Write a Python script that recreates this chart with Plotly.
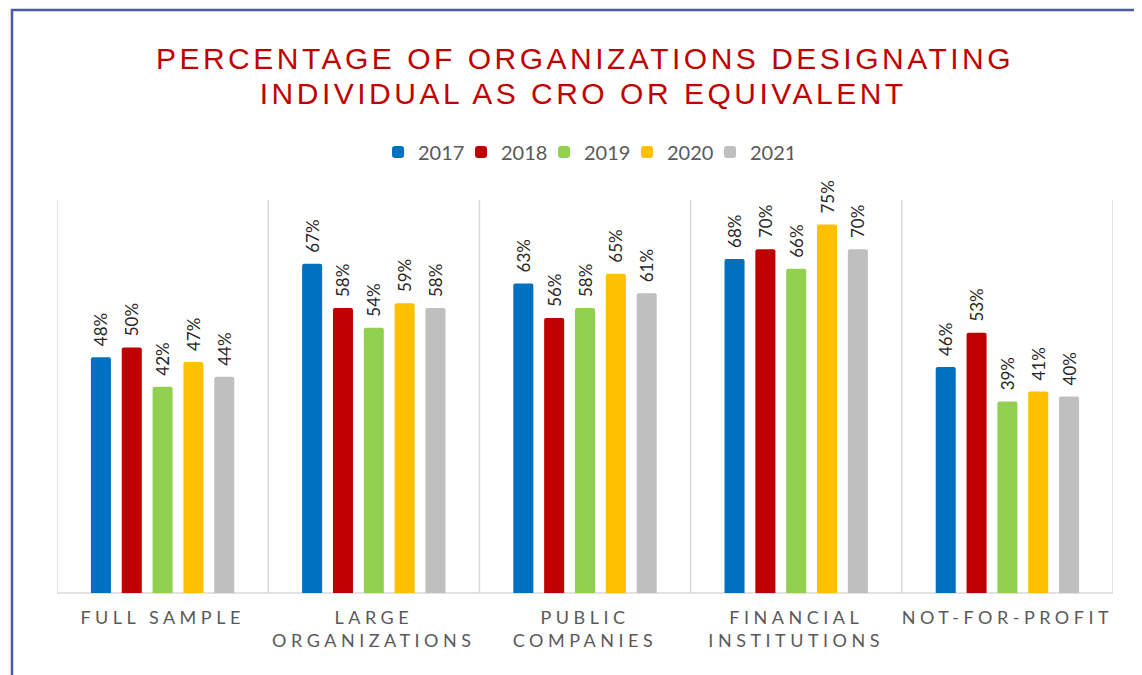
import plotly.graph_objects as go

# data
categories = ["FULL SAMPLE", "LARGE<br>ORGANIZATIONS", "PUBLIC<br>COMPANIES",
              "FINANCIAL<br>INSTITUTIONS", "NOT-FOR-PROFIT"]
years = ["2017", "2018", "2019", "2020", "2021"]
v2017 = [48, 67, 63, 68, 46]
v2018 = [50, 58, 56, 70, 53]
v2019 = [42, 54, 58, 66, 39]
v2020 = [47, 59, 65, 75, 41]
v2021 = [44, 58, 61, 70, 40]
colors = ["#0070C0", "#C00000", "#92D050", "#FFC000", "#BFBFBF"]
title_lines = ["PERCENTAGE OF ORGANIZATIONS DESIGNATING", "INDIVIDUAL AS CRO OR EQUIVALENT"]

series = [v2017, v2018, v2019, v2020, v2021]
TITLE_FONT = dict(family="Liberation Sans", size=30, color="#C00000")
# a little transparent lead-in so the label sits further off the bar, like the excel original
PAD = '<span style="color:rgba(0,0,0,0)">..</span>'

fig = go.Figure()
for name, vals, col in zip(years, series, colors):
    fig.add_trace(go.Bar(
        x=list(range(len(categories))), y=vals, name=name,
        marker=dict(color=col, line=dict(width=0), cornerradius=2),
        text=[f"{PAD}{v}%" for v in vals], textposition="outside", textangle=-90,
        textfont=dict(family="Lato", size=17, color="#262626"),
        constraintext="none", cliponaxis=False,
    ))

shapes = []
# category separators and baseline
for i in range(len(categories) + 1):
    shapes.append(dict(type="line", xref="x", yref="paper", x0=i - 0.5, x1=i - 0.5,
                       y0=0, y1=1, line=dict(color="#D9D9D9", width=1.5), layer="below"))
shapes.append(dict(type="line", xref="paper", yref="paper", x0=0, x1=1, y0=0, y1=0,
                   line=dict(color="#D9D9D9", width=1.5), layer="below"))
# slide frame
shapes.append(dict(type="rect", xref="paper", yref="paper", x0=-0.06, x1=-0.0436,
                   y0=-0.3, y1=1.6, fillcolor="#FDF7EE", line=dict(width=0)))
shapes.append(dict(type="rect", xref="paper", yref="paper", x0=-0.0426, x1=1.2,
                   y0=-0.4, y1=1.4835, line=dict(color="#4A5BA8", width=2.5)))

fig.update_layout(
    # page body has an 8px margin, so the figure is 8px smaller than the window
    width=1134, height=667,
    margin=dict(l=49, r=29, t=192, b=82),
    paper_bgcolor="white", plot_bgcolor="white",
    barmode="group", bargap=0.27, bargroupgap=0.35,
    title=dict(text=title_lines[0], x=0.5, xref="paper", xanchor="center",
               y=0.924, yref="container", yanchor="middle", font=TITLE_FONT),
    annotations=[dict(text=title_lines[1], x=0.498, xref="paper", xanchor="center",
                      y=1.272, yref="paper", yanchor="middle", showarrow=False,
                      font=TITLE_FONT)],
    legend=dict(orientation="h", x=0.304, xanchor="left", y=1.122, yanchor="middle",
                font=dict(family="Lato", size=20, color="#595959"),
                itemwidth=30, entrywidth=38, entrywidthmode="pixels",
                traceorder="normal"),
    shapes=shapes,
    xaxis=dict(tickmode="array", tickvals=list(range(len(categories))), ticktext=categories,
               range=[-0.5, len(categories) - 0.5], showgrid=False, showline=False,
               zeroline=False, ticks="", ticklabelstandoff=12,
               tickfont=dict(family="Lato", size=18, color="#595959")),
    yaxis=dict(range=[0, 80], visible=False, showgrid=False, zeroline=False),
)

# letter spacing for title and category labels (no plotly option for it)
css = ".gtitle,.annotation-text{letter-spacing:3.5px}.xtick text{letter-spacing:4.5px}"
post = ("var s=document.createElement('style');s.textContent='" + css +
        "';document.head.appendChild(s);")

fig.write_html("out.html", post_script=post)
